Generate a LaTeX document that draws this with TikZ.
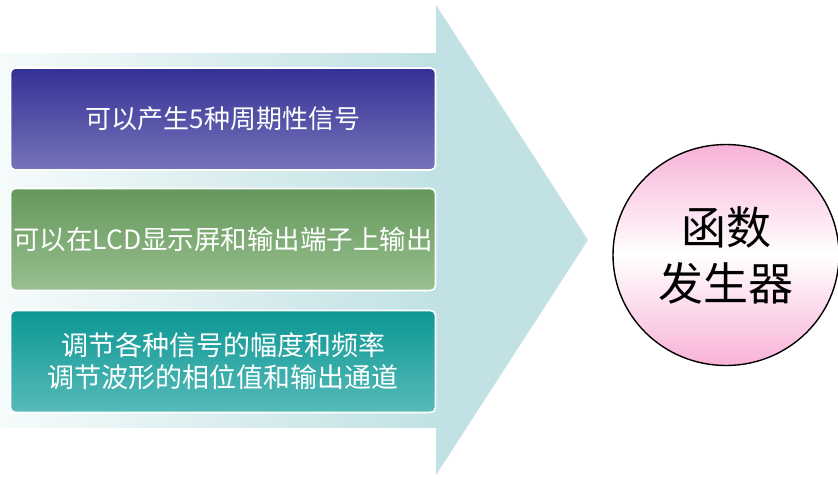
\documentclass[tikz,border=0pt]{standalone}
\usepackage{fontspec}
\newfontfamily\cjk{Noto Sans CJK SC}
\usetikzlibrary{shapes.geometric}
\definecolor{arrowc}{HTML}{C1E1E4}
\definecolor{arrowl}{HTML}{F6FBFB}
\definecolor{bAtop}{HTML}{343195}
\definecolor{bAbot}{HTML}{7574B9}
\definecolor{bBtop}{HTML}{65985C}
\definecolor{bBbot}{HTML}{99BF8F}
\definecolor{bCtop}{HTML}{0C9794}
\definecolor{bCbot}{HTML}{57BBB9}
\definecolor{pinkc}{HTML}{F8B2D7}
\tikzset{
  infobox/.style={draw=white, line width=1.6pt, rounded corners=5pt,
    minimum width=425pt, minimum height=102pt, inner sep=0pt,
    text=white, align=center, font=\cjk\fontsize{26}{32}\selectfont},
  gen/.style={ellipse, draw=black, line width=1.4pt, minimum width=226pt,
    minimum height=221pt, inner sep=0pt, align=center,
    top color=pinkc, bottom color=pinkc, middle color=white,
    font=\cjk\fontsize{45}{56}\selectfont}
}
\begin{document}
\begin{tikzpicture}[x=1pt,y=-1pt]
\useasboundingbox (0,0) rectangle (838,477);
% arrow shaft
\fill[left color=arrowl, right color=arrowc] (0,53) rectangle (437,427);
% arrow head
\fill[arrowc] (436,5) -- (588,240) -- (436,475) -- cycle;
% boxes
\node[infobox, top color=bAtop, bottom color=bAbot] (b1) at (223,119) {可以产生5种周期性信号};
\node[infobox, top color=bBtop, bottom color=bBbot, font=\cjk\fontsize{26.5}{32}\selectfont] (b2) at (223,239.5) {可以在LCD显示屏和输出端子上输出};
\node[infobox, top color=bCtop, bottom color=bCbot, font=\cjk\fontsize{27}{32}\selectfont] (b3) at (223,361.5) {调节各种信号的幅度和频率\\调节波形的相位值和输出通道};
% circle
\node[gen] (g) at (726,255) {函数\\发生器};
\end{tikzpicture}
\end{document}
